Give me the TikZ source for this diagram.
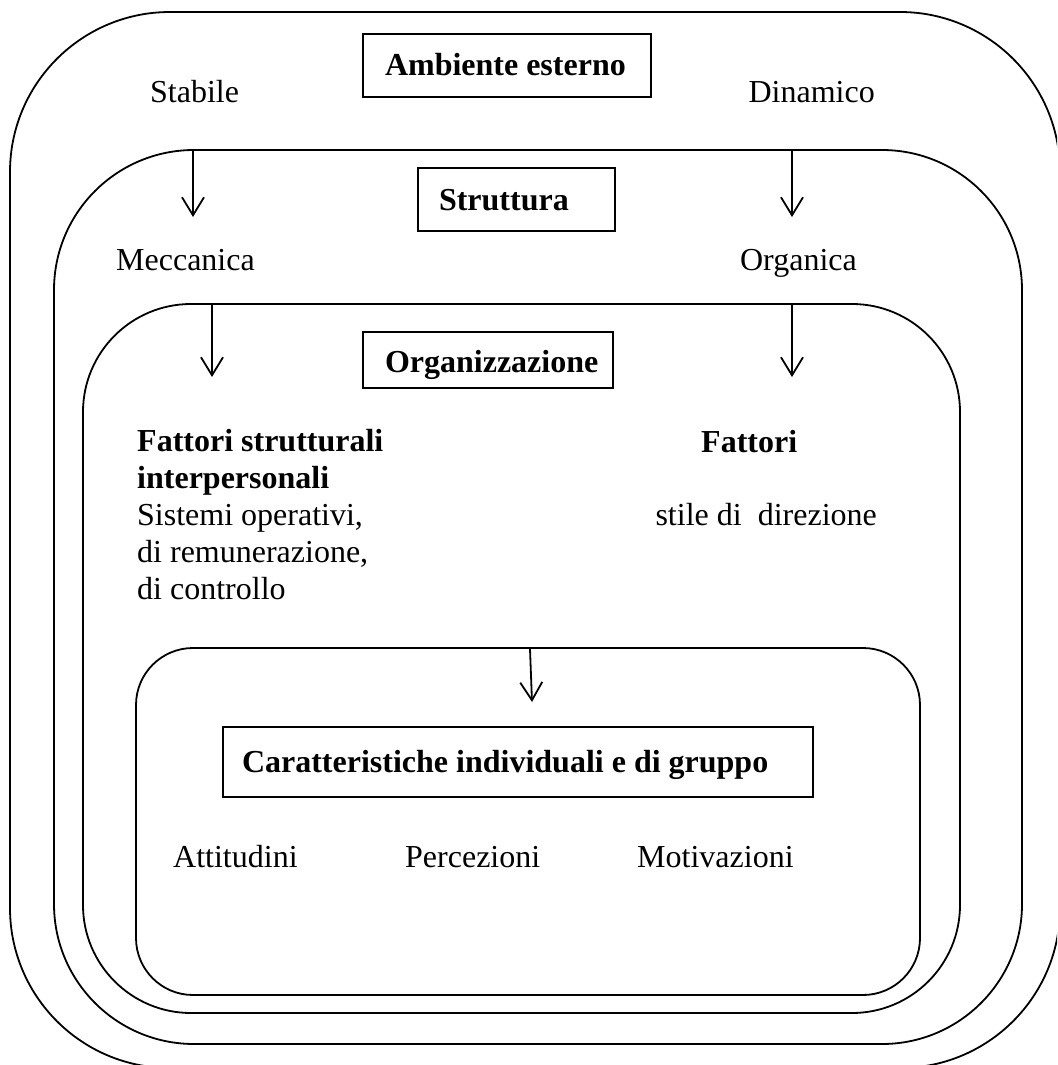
\documentclass[tikz,border=0pt]{standalone}
\usepackage{fontspec}
\setmainfont{Liberation Serif}
\usetikzlibrary{arrows.meta}
% left-padded content of fixed width
\newcommand\padtext[3]{\makebox[#1][l]{\hspace*{#2}#3}}
\begin{document}
\begin{tikzpicture}[x=1pt,y=-1pt,
  frame/.style={draw, line width=1.8pt, rounded corners=#1, inner sep=0pt,
    outer sep=0pt, anchor=north west},
  txt/.style={font=\fontsize{32}{36.8}\selectfont, inner sep=0pt},
  titlebox/.style={draw, line width=1.8pt, font=\fontsize{32}{37}\selectfont\bfseries,
    inner sep=0pt, outer sep=0pt, anchor=north west},
  flow/.style={line width=1.8pt, -{Straight Barb[length=18pt,width=22pt,line width=1.8pt]}}
]
\clip (0,0) rectangle (1057,1065);
\useasboundingbox (0,0) rectangle (1057,1065);

% nested rounded frames
\node[frame=160pt, minimum width=1050pt, minimum height=1056pt] (env) at (10,12) {};
\node[frame=140pt, minimum width=968pt, minimum height=894pt] (struct) at (54,150) {};
\node[frame=108pt, minimum width=877pt, minimum height=709pt] (org) at (83,304) {};
\node[frame=57pt, minimum width=784pt, minimum height=347pt] (indiv) at (136,648) {};

% titled boxes
\node[titlebox, text height=41pt, text depth=22pt] (tenv) at (363,34)
  {\padtext{288pt}{22pt}{Ambiente esterno}};
\node[titlebox, text height=42pt, text depth=21pt] (tstruct) at (418,168)
  {\padtext{197pt}{21pt}{Struttura}};
\node[titlebox, text height=40pt, text depth=16pt] (torg) at (363,332)
  {\padtext{250pt}{22pt}{Organizzazione}};
\node[titlebox, text height=45pt, text depth=25pt] (tindiv) at (223,727)
  {\padtext{590pt}{19pt}{Caratteristiche individuali e di gruppo}};

% labels
\node[txt, anchor=base west] (stab) at (150,102) {Stabile};
\node[txt, anchor=base east] (dina) at (875,102) {Dinamico};
\node[txt, anchor=base west] (mecc) at (116,270) {Meccanica};
\node[txt, anchor=base east] (orga) at (857,270) {Organica};
\node[txt, anchor=base west, align=left] (fstr) at (137,599)
  {\textbf{Fattori strutturali}\\\textbf{interpersonali}\\Sistemi operativi,\\di remunerazione,\\di controllo};
\node[txt, anchor=base west, font=\fontsize{32}{36.8}\selectfont\bfseries] (fatt) at (701,452) {Fattori};
\node[txt, anchor=base east] (stile) at (877,525) {stile di\ \ direzione};
\node[txt, anchor=base west] (att) at (173,867) {Attitudini};
\node[txt, anchor=base west] (perc) at (405,867) {Percezioni};
\node[txt, anchor=base west] (moti) at (637,867) {Motivazioni};

% arrow end points
\coordinate (s1) at (193,151);  \coordinate (e1) at (193,217);
\coordinate (s2) at (792,151);  \coordinate (e2) at (792,217);
\coordinate (s3) at (212,305);  \coordinate (e3) at (212,377);
\coordinate (s4) at (792,305);  \coordinate (e4) at (792,377);
\coordinate (s5) at (530,649);  \coordinate (e5) at (532,702);

\draw[flow] (s1) -- (e1);
\draw[flow] (s2) -- (e2);
\draw[flow] (s3) -- (e3);
\draw[flow] (s4) -- (e4);
\draw[flow] (s5) -- (e5);
\end{tikzpicture}
\end{document}
